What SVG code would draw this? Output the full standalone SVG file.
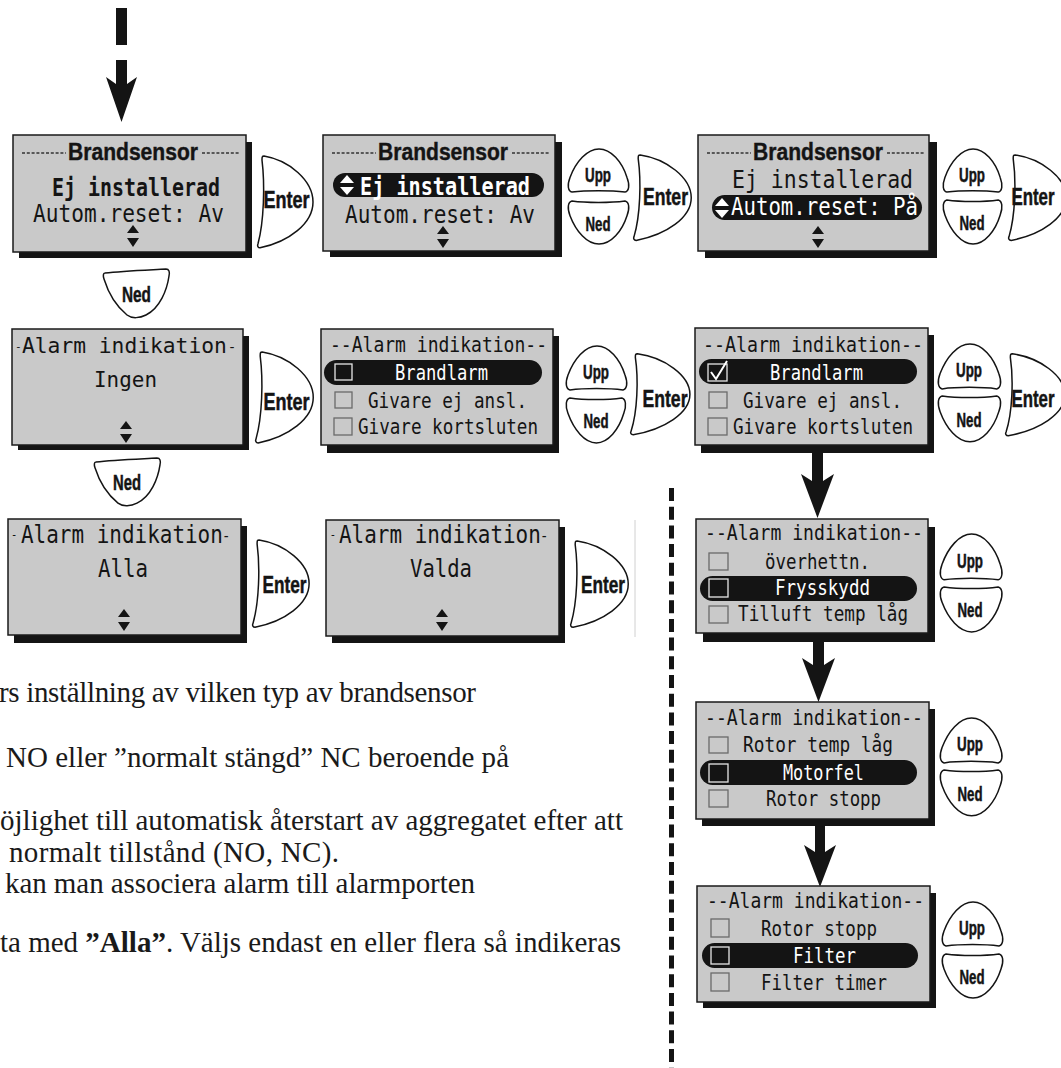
<svg xmlns="http://www.w3.org/2000/svg" width="1061" height="1068" viewBox="0 0 1061 1068">
<style>
.sh{fill:#141414}
.box{fill:#c9c9c9;stroke:#1a1a1a;stroke-width:1.5}
.lcd{font-family:"DejaVu Sans Mono","Liberation Mono",monospace;fill:#141414}
.big{font-size:25px}
.mid{font-size:21px}
.row{font-size:22px}
.r3{font-size:24px}
.b{font-weight:bold}
.w{fill:#ffffff}
.ttl{font-family:"Liberation Sans",Arial,sans-serif;font-weight:bold;font-size:23px;fill:#141414;stroke:#141414;stroke-width:0.4}
.btn{fill:#ffffff;stroke:#141414;stroke-width:1.5;vector-effect:non-scaling-stroke}
.bt{font-family:"Liberation Sans",Arial,sans-serif;font-weight:bold;fill:#141414;text-anchor:middle;stroke:#141414;stroke-width:0.5}
.et{font-size:24px}
.ut{font-size:20px}
.nt{font-size:20px}
.pill{fill:#141414}
.cb{fill:none;stroke:#6a6a6a;stroke-width:1.3}
.cbs{fill:#141414;stroke:#e6e6e6;stroke-width:1.3}
.dots{stroke:#333333;stroke-width:1.3;stroke-dasharray:3 1.8;fill:none}
.body{font-family:"Liberation Serif","Times New Roman",serif;font-size:29px;fill:#1a1a1a}
.ink{fill:#141414}
.wk{fill:#ffffff}
</style>
<defs>
<path id="enter" class="btn" d="M7,2 C32,6 56,26 56,47 C56,68 32,86 3,92 C1,92 0,90 1,88 C7,66 8,30 5,6 C5,3 5,2 7,2 Z"/>
<path id="upp" class="btn" d="M5,45 C1,44 0,38 3,30 C9,14 20,1 32,1 C44,1 55,14 60,30 C63,38 62,44 58,45 C44,43 19,43 5,45 Z"/>
<path id="ned" class="btn" d="M5,1 C19,3 44,3 58,1 C62,2 63,8 60,16 C55,32 44,45 32,45 C20,45 9,32 3,16 C0,8 1,2 5,1 Z"/>
<path id="ned2" class="btn" d="M3,5 C20,3 46,2 64,1 C67,1 68,4 67,8 C65,22 58,40 44,47 C38,50 30,51 25,47 C14,38 6,24 2,11 C1,8 1,5 3,5 Z"/>
<path id="ud" class="ink" d="M-6,8 L6,8 L0,0 Z M-6,13 L6,13 L0,22 Z"/>
</defs>
<rect x="0" y="0" width="1061" height="1068" fill="#ffffff"/>

<g id="connectors">
<rect class="ink" x="116" y="8" width="11" height="37"/>
<rect class="ink" x="116" y="60" width="11" height="25"/>
<path class="ink" d="M106,77 L116,84 L127,84 L137,77 L121.5,122 Z"/>
<rect class="ink" x="812" y="453" width="11" height="29"/>
<path class="ink" d="M801,474 L812,481 L823,481 L834,474 L817.5,518 Z"/>
<rect class="ink" x="813" y="642" width="11" height="23"/>
<path class="ink" d="M802,658 L813,665 L824,665 L835,658 L818.5,702 Z"/>
<rect class="ink" x="815" y="826" width="10" height="26"/>
<path class="ink" d="M804,845 L815,852 L825,852 L836,845 L820,887 Z"/>
<line x1="671.5" y1="488" x2="671.5" y2="1068" stroke="#141414" stroke-width="5" stroke-dasharray="13 5.7"/>
<line x1="635" y1="520" x2="635" y2="637" stroke="#d0d0d0" stroke-width="1"/>
</g>

<g id="box-brandsensor-1">
<rect class="sh" x="19" y="142" width="233" height="116"/>
<rect class="box" x="13" y="135" width="233" height="117"/>
<line class="dots" x1="22" y1="153" x2="66" y2="153"/>
<text class="ttl" x="68" y="160" textLength="130" lengthAdjust="spacingAndGlyphs">Brandsensor</text>
<line class="dots" x1="202" y1="153" x2="239" y2="153"/>
<text class="lcd b" font-size="24" x="52" y="196" textLength="168" lengthAdjust="spacingAndGlyphs">Ej installerad</text>
<text class="lcd" font-size="24" x="33" y="222" textLength="191" lengthAdjust="spacingAndGlyphs">Autom.reset: Av</text>
<use href="#ud" x="133" y="225"/>
</g>

<g id="box-brandsensor-2">
<rect class="sh" x="330" y="142" width="232" height="115"/>
<rect class="box" x="323" y="135" width="232" height="116"/>
<line class="dots" x1="332" y1="153" x2="376" y2="153"/>
<text class="ttl" x="378" y="160" textLength="130" lengthAdjust="spacingAndGlyphs">Brandsensor</text>
<line class="dots" x1="512" y1="153" x2="549" y2="153"/>
<rect class="pill" x="333" y="173" width="211" height="24" rx="12"/>
<path class="wk" d="M340,183 L354,183 L347,175 Z M340,187 L354,187 L347,195 Z"/>
<text class="lcd big b w" x="360" y="195" textLength="170" lengthAdjust="spacingAndGlyphs">Ej installerad</text>
<text class="lcd big" x="345" y="223" textLength="190" lengthAdjust="spacingAndGlyphs">Autom.reset: Av</text>
<use href="#ud" x="443" y="226"/>
</g>

<g id="box-brandsensor-3">
<rect class="sh" x="705" y="142" width="232" height="116"/>
<rect class="box" x="698" y="135" width="231" height="116"/>
<line class="dots" x1="707" y1="153" x2="751" y2="153"/>
<text class="ttl" x="753" y="160" textLength="130" lengthAdjust="spacingAndGlyphs">Brandsensor</text>
<line class="dots" x1="887" y1="153" x2="924" y2="153"/>
<text class="lcd big" x="732" y="188" textLength="181" lengthAdjust="spacingAndGlyphs">Ej installerad</text>
<rect class="pill" x="712" y="195" width="210" height="25" rx="12.5"/>
<path class="wk" d="M715,206 L729,206 L722,198 Z M715,210 L729,210 L722,218 Z"/>
<text class="lcd big w" x="731" y="215" textLength="187" lengthAdjust="spacingAndGlyphs">Autom.reset: På</text>
<use href="#ud" x="818" y="226"/>
</g>

<g id="box-alarm-ingen">
<rect class="sh" x="18" y="336" width="231" height="114"/>
<rect class="box" x="12" y="329" width="231" height="116"/>
<text class="lcd mid" transform="translate(22,353) scale(1.013,1)"><tspan x="-7" y="-3" font-size="11">-</tspan><tspan x="0" y="0">Alarm indikation</tspan><tspan x="203" y="-1" font-size="14">-</tspan></text>
<text class="lcd mid" x="94" y="387" textLength="63" lengthAdjust="spacingAndGlyphs">Ingen</text>
<use href="#ud" x="126" y="421"/>
</g>

<g id="box-alarm-list-1">
<rect class="sh" x="327" y="336" width="232" height="117"/>
<rect class="box" x="321" y="329" width="232" height="116"/>
<text class="lcd mid" x="330" y="352" textLength="217" lengthAdjust="spacingAndGlyphs">--Alarm indikation--</text>
<rect class="pill" x="324" y="360" width="218" height="25" rx="12.5"/>
<rect class="cbs" x="335" y="364" width="17" height="16"/>
<text class="lcd row w" x="395" y="380" textLength="93" lengthAdjust="spacingAndGlyphs">Brandlarm</text>
<rect class="cb" x="335" y="392" width="17" height="16"/>
<text class="lcd row" x="368" y="408" textLength="159" lengthAdjust="spacingAndGlyphs">Givare ej ansl.</text>
<rect class="cb" x="334" y="418" width="18" height="17"/>
<text class="lcd row" x="358" y="434" textLength="180" lengthAdjust="spacingAndGlyphs">Givare kortsluten</text>
</g>

<g id="box-alarm-list-2">
<rect class="sh" x="701" y="335" width="233" height="118"/>
<rect class="box" x="695" y="328" width="233" height="117"/>
<text class="lcd mid" x="703" y="352" textLength="220" lengthAdjust="spacingAndGlyphs">--Alarm indikation--</text>
<rect class="pill" x="699" y="359" width="218" height="25" rx="12.5"/>
<rect class="cbs" x="708" y="364" width="19" height="17"/>
<path d="M711,372 L716,379 L727,361" fill="none" stroke="#ffffff" stroke-width="2"/>
<text class="lcd row w" x="770" y="380" textLength="93" lengthAdjust="spacingAndGlyphs">Brandlarm</text>
<rect class="cb" x="709" y="392" width="18" height="16"/>
<text class="lcd row" x="743" y="408" textLength="159" lengthAdjust="spacingAndGlyphs">Givare ej ansl.</text>
<rect class="cb" x="708" y="418" width="19" height="17"/>
<text class="lcd row" x="733" y="434" textLength="180" lengthAdjust="spacingAndGlyphs">Givare kortsluten</text>
</g>

<g id="box-alarm-list-3">
<rect class="sh" x="703" y="527" width="232" height="115"/>
<rect class="box" x="696" y="519" width="232" height="114"/>
<text class="lcd mid" x="705" y="540" textLength="218" lengthAdjust="spacingAndGlyphs">--Alarm indikation--</text>
<rect class="cb" x="709" y="553" width="19" height="17"/>
<text class="lcd row" x="765" y="569" textLength="105" lengthAdjust="spacingAndGlyphs">överhettn.</text>
<rect class="pill" x="700" y="576" width="217" height="25" rx="12.5"/>
<rect class="cbs" x="709" y="579" width="19" height="18"/>
<text class="lcd row w" x="775" y="595" textLength="95" lengthAdjust="spacingAndGlyphs">Frysskydd</text>
<rect class="cb" x="709" y="606" width="19" height="17"/>
<text class="lcd row" x="738" y="621" textLength="170" lengthAdjust="spacingAndGlyphs">Tilluft temp låg</text>
</g>

<g id="box-alarm-list-4">
<rect class="sh" x="702" y="709" width="233" height="117"/>
<rect class="box" x="696" y="702" width="233" height="117"/>
<text class="lcd mid" x="705" y="725" textLength="218" lengthAdjust="spacingAndGlyphs">--Alarm indikation--</text>
<rect class="cb" x="709" y="737" width="19" height="16"/>
<text class="lcd row" x="743" y="752" textLength="150" lengthAdjust="spacingAndGlyphs">Rotor temp låg</text>
<rect class="pill" x="700" y="760" width="217" height="25" rx="12.5"/>
<rect class="cbs" x="709" y="764" width="19" height="18"/>
<text class="lcd row w" x="783" y="780" textLength="81" lengthAdjust="spacingAndGlyphs">Motorfel</text>
<rect class="cb" x="709" y="790" width="19" height="17"/>
<text class="lcd row" x="766" y="806" textLength="115" lengthAdjust="spacingAndGlyphs">Rotor stopp</text>
</g>

<g id="box-alarm-list-5">
<rect class="sh" x="703" y="893" width="233" height="115"/>
<rect class="box" x="697" y="886" width="233" height="116"/>
<text class="lcd mid" x="707" y="908" textLength="217" lengthAdjust="spacingAndGlyphs">--Alarm indikation--</text>
<rect class="cb" x="711" y="919" width="18" height="18"/>
<text class="lcd row" x="761" y="936" textLength="116" lengthAdjust="spacingAndGlyphs">Rotor stopp</text>
<rect class="pill" x="702" y="943" width="216" height="25" rx="12.5"/>
<rect class="cbs" x="711" y="947" width="18" height="17"/>
<text class="lcd row w" x="793" y="963" textLength="63" lengthAdjust="spacingAndGlyphs">Filter</text>
<rect class="cb" x="711" y="973" width="18" height="18"/>
<text class="lcd row" x="761" y="990" textLength="126" lengthAdjust="spacingAndGlyphs">Filter timer</text>
</g>

<g id="box-alarm-alla">
<rect class="sh" x="14" y="526" width="233" height="117"/>
<rect class="box" x="8" y="519" width="233" height="116"/>
<text class="lcd r3" transform="translate(21,543) scale(0.874,1)"><tspan x="-11.5" y="-4.5" font-size="12">-</tspan><tspan x="0" y="0">Alarm indikation</tspan><tspan x="230" y="-2" font-size="16">-</tspan></text>
<text class="lcd r3" x="98" y="577" textLength="50" lengthAdjust="spacingAndGlyphs">Alla</text>
<use href="#ud" x="124" y="609"/>
</g>

<g id="box-alarm-valda">
<rect class="sh" x="332" y="527" width="233" height="116"/>
<rect class="box" x="326" y="520" width="233" height="116"/>
<text class="lcd r3" transform="translate(339,543) scale(0.874,1)"><tspan x="-10.5" y="-4.5" font-size="12">-</tspan><tspan x="0" y="0">Alarm indikation</tspan><tspan x="230" y="-2" font-size="16">-</tspan></text>
<text class="lcd r3" x="410" y="577" textLength="62" lengthAdjust="spacingAndGlyphs">Valda</text>
<use href="#ud" x="442" y="609"/>
</g>

<g id="btn-enter-1"><use href="#enter" transform="translate(257,154) scale(1,1.02)"/><text class="bt et" x="286.5" y="208" textLength="46" lengthAdjust="spacingAndGlyphs">Enter</text></g>
<g id="btn-enter-2"><use href="#enter" transform="translate(633,153) scale(1.04,0.95)"/><text class="bt et" x="665.5" y="205" textLength="45" lengthAdjust="spacingAndGlyphs">Enter</text></g>
<g id="btn-enter-3"><use href="#enter" transform="translate(1008,153) scale(1.04,0.95)"/><text class="bt et" x="1033" y="205" textLength="43" lengthAdjust="spacingAndGlyphs">Enter</text></g>
<g id="btn-enter-4"><use href="#enter" transform="translate(255,350) scale(1.04,1.01)"/><text class="bt et" x="286.5" y="410" textLength="46" lengthAdjust="spacingAndGlyphs">Enter</text></g>
<g id="btn-enter-5"><use href="#enter" transform="translate(630,352) scale(1.07,0.9)"/><text class="bt et" x="665" y="407" textLength="45" lengthAdjust="spacingAndGlyphs">Enter</text></g>
<g id="btn-enter-6"><use href="#enter" transform="translate(1005,352) scale(1.07,0.91)"/><text class="bt et" x="1033" y="407" textLength="43" lengthAdjust="spacingAndGlyphs">Enter</text></g>
<g id="btn-enter-10"><use href="#enter" transform="translate(252,538) scale(1.02,0.97)"/><text class="bt et" x="284.5" y="593" textLength="44" lengthAdjust="spacingAndGlyphs">Enter</text></g>
<g id="btn-enter-11"><use href="#enter" transform="translate(570,539) scale(1.04,0.96)"/><text class="bt et" x="603" y="593" textLength="44" lengthAdjust="spacingAndGlyphs">Enter</text></g>

<g id="btn-ned-1"><use href="#ned2" transform="translate(102,268)"/><text class="bt" font-size="22" x="136.5" y="302" textLength="29" lengthAdjust="spacingAndGlyphs">Ned</text></g>
<g id="btn-ned-2"><use href="#ned2" transform="translate(93,457) scale(1,0.98)"/><text class="bt" font-size="22" x="127" y="490" textLength="28" lengthAdjust="spacingAndGlyphs">Ned</text></g>

<g id="btn-uppned-2"><use href="#upp" transform="translate(567,148) scale(1,0.98)"/><text class="bt ut" x="598" y="182" textLength="26" lengthAdjust="spacingAndGlyphs">Upp</text><use href="#ned" transform="translate(567,200) scale(1,0.98)"/><text class="bt nt" x="598" y="231" textLength="25" lengthAdjust="spacingAndGlyphs">Ned</text></g>
<g id="btn-uppned-3"><use href="#upp" transform="translate(942,148) scale(0.97,0.98)"/><text class="bt ut" x="972" y="182" textLength="26" lengthAdjust="spacingAndGlyphs">Upp</text><use href="#ned" transform="translate(942,199) scale(0.97,1)"/><text class="bt nt" x="972" y="230" textLength="25" lengthAdjust="spacingAndGlyphs">Ned</text></g>
<g id="btn-uppned-5"><use href="#upp" transform="translate(565,345)"/><text class="bt ut" x="596" y="379" textLength="26" lengthAdjust="spacingAndGlyphs">Upp</text><use href="#ned" transform="translate(565,397) scale(0.98,1.02)"/><text class="bt nt" x="596" y="428" textLength="25" lengthAdjust="spacingAndGlyphs">Ned</text></g>
<g id="btn-uppned-6"><use href="#upp" transform="translate(937,343) scale(1.03,1.02)"/><text class="bt ut" x="969" y="377" textLength="26" lengthAdjust="spacingAndGlyphs">Upp</text><use href="#ned" transform="translate(937,395) scale(1.03,1.04)"/><text class="bt nt" x="969" y="427" textLength="25" lengthAdjust="spacingAndGlyphs">Ned</text></g>
<g id="btn-uppned-7"><use href="#upp" transform="translate(939,533) scale(1.02,1.04)"/><text class="bt ut" x="970" y="568" textLength="26" lengthAdjust="spacingAndGlyphs">Upp</text><use href="#ned" transform="translate(939,586) scale(1.02,1.02)"/><text class="bt nt" x="970" y="617" textLength="25" lengthAdjust="spacingAndGlyphs">Ned</text></g>
<g id="btn-uppned-8"><use href="#upp" transform="translate(939,717) scale(1.02,1.02)"/><text class="bt ut" x="970" y="751" textLength="26" lengthAdjust="spacingAndGlyphs">Upp</text><use href="#ned" transform="translate(939,769) scale(1.02,1.04)"/><text class="bt nt" x="970" y="801" textLength="25" lengthAdjust="spacingAndGlyphs">Ned</text></g>
<g id="btn-uppned-9"><use href="#upp" transform="translate(941,901)"/><text class="bt ut" x="972" y="935" textLength="26" lengthAdjust="spacingAndGlyphs">Upp</text><use href="#ned" transform="translate(941,953)"/><text class="bt nt" x="972" y="984" textLength="25" lengthAdjust="spacingAndGlyphs">Ned</text></g>

<g id="body-text">
<text class="body" x="-1" y="702" textLength="477" lengthAdjust="spacing">rs inställning av vilken typ av brandsensor</text>
<text class="body" x="6" y="767" textLength="503" lengthAdjust="spacing">NO eller ”normalt stängd” NC beroende på</text>
<text class="body" x="0" y="830" textLength="623" lengthAdjust="spacing">öjlighet till automatisk återstart av aggregatet efter att</text>
<text class="body" x="9" y="862" textLength="330" lengthAdjust="spacing">normalt tillstånd (NO, NC).</text>
<text class="body" x="5" y="893" textLength="470" lengthAdjust="spacing">kan man associera alarm till alarmporten</text>
<text class="body" x="0" y="952">ta med <tspan font-weight="bold">”Alla”</tspan>. Väljs endast en eller flera så indikeras</text>
</g>
</svg>
